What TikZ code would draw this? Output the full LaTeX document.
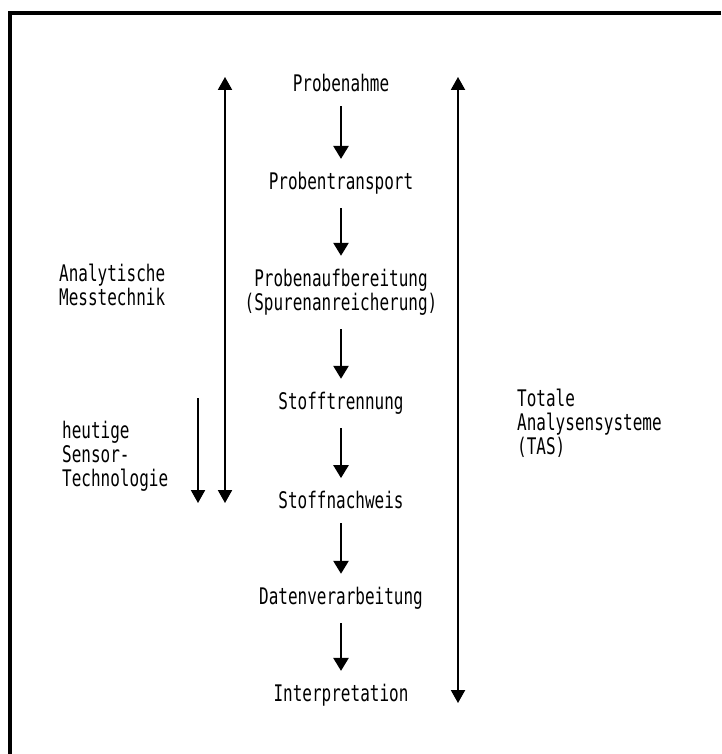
\documentclass[tikz,border=0pt]{standalone}
\usepackage{fontspec}
\newfontfamily\plotfont[FakeStretch=0.7]{DejaVu Sans Mono}
\usetikzlibrary{positioning,arrows.meta}

\begin{document}
\begin{tikzpicture}[
	x=0.03cm, y=-0.03cm,
	font=\plotfont\fontsize{19.5}{20.5}\selectfont,
	% Style fuer die Stufen der Analyse (Mitte)
	flow_text/.style={align=center, inner sep=0pt},
	% Style fuer die Pfeile zwischen den Stufen
	flow_arrow/.style={
		-{Triangle[width=13pt, length=11pt]},
		line width=1.4pt,
		shorten <=12pt, shorten >=11pt
	},
	% Style fuer die langen Bereichspfeile links und rechts
	range_arrow/.style={
		line width=1.4pt,
		{Triangle[width=12pt, length=11pt]}-{Triangle[width=12pt, length=11pt]}
	},
	% Style fuer den Sensorpfeil (nur nach unten)
	down_arrow/.style={
		line width=1.4pt,
		-{Triangle[width=12pt, length=11pt]}
	},
	% Style fuer die Beschriftungen an der Seite
	side_text/.style={align=left, anchor=west, inner sep=0pt}
	]
	
	\useasboundingbox (0,0) rectangle (721,754);
	
	% ================= Rahmen (nur oben und links) =================
	\draw[line width=3pt] (721,13) -- (10,13) -- (10,754);
	
	% ================= Mitte: Ablauf der Analyse =================
	\node[flow_text] (probenahme) at (341, 83) {Probenahme};
	\node[flow_text] (transport) at (341, 183) {Probentransport};
	\node[flow_text] (aufbereitung) at (341, 292) {Probenaufbereitung\\(Spurenanreicherung)};
	\node[flow_text] (trennung) at (341, 403) {Stofftrennung};
	\node[flow_text] (nachweis) at (341, 500) {Stoffnachweis};
	\node[flow_text] (daten) at (341, 598) {Datenverarbeitung};
	\node[flow_text] (interpretation) at (341, 695) {Interpretation};
	
	% Pfeile von Stufe zu Stufe
	\foreach \von/\nach in {probenahme/transport, transport/aufbereitung,
		aufbereitung/trennung, trennung/nachweis, nachweis/daten,
		daten/interpretation}
	\draw[flow_arrow] (\von) -- (\nach);
	
	% ================= Links: Messtechnik und Sensoren =================
	\node[side_text] (messtechnik) at (59, 285) {Analytische\\Messtechnik};
	\node[side_text] (sensor) at (62, 456) {heutige\\Sensor-\\Technologie};
	
	\coordinate (mt_oben) at (225, 77);
	\coordinate (mt_unten) at (225, 503);
	\draw[range_arrow] (mt_oben) -- (mt_unten);
	
	\coordinate (sensor_oben) at (198, 398);
	\coordinate (sensor_unten) at (198, 503);
	\draw[down_arrow] (sensor_oben) -- (sensor_unten);
	
	% ================= Rechts: Totale Analysensysteme =================
	\node[side_text] (tas) at (517, 423) {Totale\\Analysensysteme\\(TAS)};
	
	\coordinate (tas_oben) at (458, 77);
	\coordinate (tas_unten) at (458, 703);
	\draw[range_arrow] (tas_oben) -- (tas_unten);
	
\end{tikzpicture}
\end{document}
